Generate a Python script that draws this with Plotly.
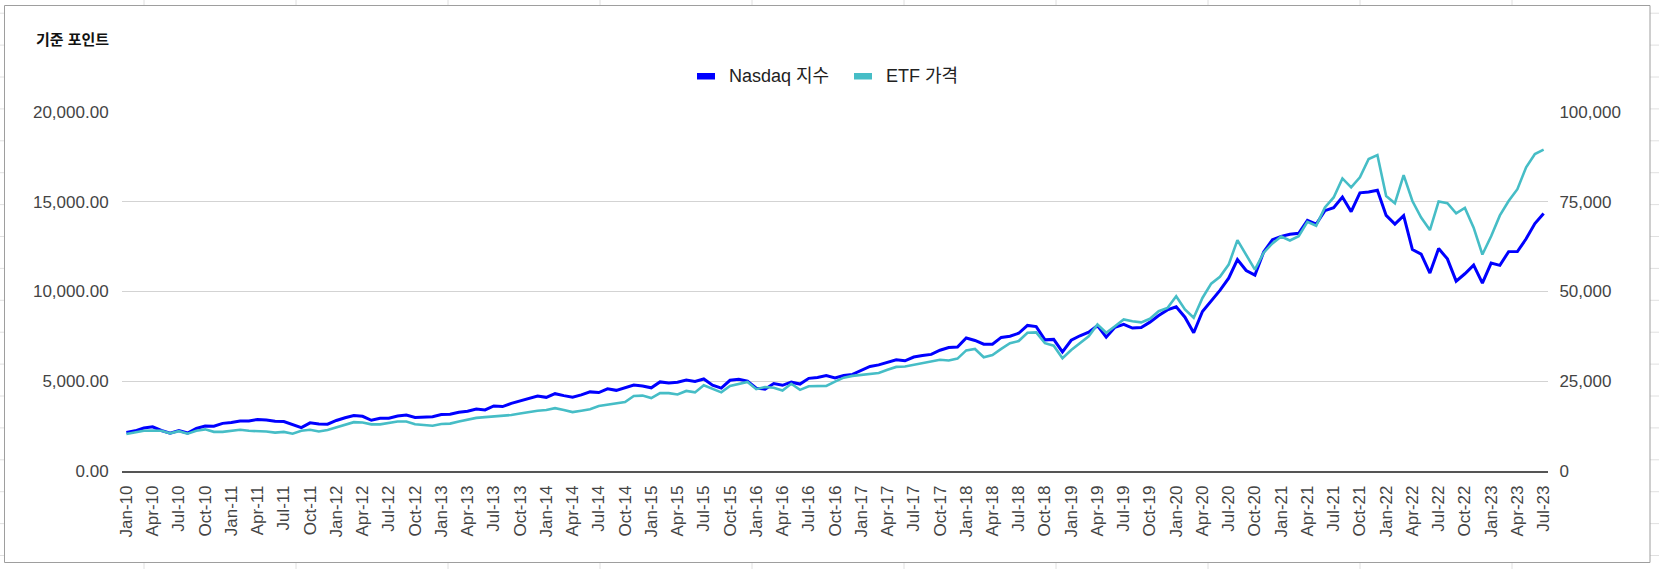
import plotly.graph_objects as go

# Monthly data, Jan-10 .. Jul-23
month_names = ["Jan", "Feb", "Mar", "Apr", "May", "Jun", "Jul", "Aug", "Sep", "Oct", "Nov", "Dec"]
months = [f"{m}-{y:02d}" for y in range(10, 24) for m in month_names][:163]

# Nasdaq index (left axis)
nasdaq = [
    2147, 2238, 2398, 2461, 2257, 2109, 2255, 2114, 2369, 2507, 2498, 2653,
    2700, 2782, 2781, 2874, 2835, 2774, 2756, 2579, 2415, 2684, 2620, 2605,
    2814, 2967, 3092, 3046, 2827, 2935, 2940, 3067, 3116, 2977, 3010, 3020,
    3142, 3160, 3268, 3329, 3456, 3403, 3626, 3590, 3771, 3920, 4060, 4177,
    4104, 4308, 4199, 4115, 4243, 4408, 4370, 4580, 4493, 4631, 4792, 4736,
    4635, 4964, 4901, 4941, 5070, 4987, 5128, 4777, 4620, 5054, 5109, 5007,
    4614, 4558, 4870, 4775, 4948, 4843, 5162, 5213, 5312, 5189, 5324, 5383,
    5615, 5825, 5912, 6048, 6199, 6140, 6348, 6429, 6496, 6728, 6874, 6903,
    7411, 7273, 7063, 7066, 7442, 7510, 7672, 8110, 8046, 7306, 7331, 6635,
    7282, 7533, 7729, 8095, 7453, 8006, 8175, 7963, 7999, 8292, 8665, 8973,
    9151, 8567, 7700, 8890, 9490, 10059, 10745, 11775, 11168, 10912, 12199, 12888,
    13071, 13192, 13247, 13963, 13749, 14504, 14673, 15259, 14449, 15498, 15538, 15645,
    14240, 13751, 14221, 12335, 12081, 11029, 12391, 11816, 10576, 10988, 11468, 10466,
    11585, 11456, 12222, 12227, 12935, 13788, 14346,
]

# ETF price (right axis)
etf = [
    10300, 10700, 11200, 11300, 11200, 10500, 11100, 10400, 11200, 11600, 10900, 10900,
    11100, 11500, 11200, 11200, 11000, 10700, 10900, 10400, 11200, 11500, 11000, 11400,
    12100, 12800, 13600, 13500, 13000, 13000, 13300, 13800, 13800, 13000, 12800, 12600,
    13100, 13200, 13800, 14300, 14800, 15000, 15200, 15300, 15600, 16000, 16500, 16800,
    17000, 17500, 17000, 16400, 16800, 17200, 18100, 18400, 18900, 19200, 20900, 21000,
    20300, 21700, 21700, 21300, 22300, 21900, 23900, 23000, 21900, 23700, 24200, 24800,
    22800, 23400, 23200, 22400, 24300, 22600, 23600, 23700, 23700, 24900, 26000, 26500,
    26800, 27100, 27300, 28200, 29000, 29100, 29600, 30100, 30400, 31000, 30800, 31300,
    33600, 34000, 31700, 32300, 34000, 35600, 36200, 38500, 38600, 35600, 34900, 31400,
    33700, 35700, 37500, 40800, 38500, 40300, 42200, 41700, 41400, 42400, 44500, 45400,
    48700, 45000, 42700, 48200, 52200, 54100, 57500, 64300, 60300, 56100, 60800, 63400,
    65300, 64200, 65400, 69400, 68300, 73400, 76200, 81500, 79000, 81800, 86900, 88000,
    76600, 74600, 82400, 75200, 70600, 67100, 75100, 74600, 71800, 73300, 67800, 60300,
    65400, 71200, 75200, 78500, 84600, 88300, 89500,
]

series_names = ["Nasdaq 지수", "ETF 가격"]
series_colors = ["#0000ff", "#46bdc6"]
chart_title = "기준 포인트"

left_ticks = [0, 5000, 10000, 15000, 20000]
right_ticks = [0, 25000, 50000, 75000, 100000]

W, H = 1659, 569
L, R, T, B = 122, 111, 112, 98
FONT = "Arial, 'Liberation Sans', 'Noto Sans CJK KR', sans-serif"


def px(x, y):
    # pixel position -> paper coordinates
    return (x - L) / (W - L - R), (H - B - y) / (H - T - B)


fig = go.Figure()

fig.add_trace(go.Scatter(
    x=months, y=nasdaq, name=series_names[0], mode="lines",
    line=dict(color=series_colors[0], width=3), yaxis="y",
))
fig.add_trace(go.Scatter(
    x=months, y=etf, name=series_names[1], mode="lines",
    line=dict(color=series_colors[1], width=2.6), yaxis="y2",
))

shapes = []

# spreadsheet cell lines visible around the chart frame
grid_col = "#e0e0e0"
for gx in [144 + 152 * k for k in range(10)]:
    for y0, y1 in [(0, 5), (563, 569)]:
        x0p, y0p = px(gx, y0)
        _, y1p = px(gx, y1)
        shapes.append(dict(type="line", xref="paper", yref="paper", x0=x0p, x1=x0p,
                           y0=y0p, y1=y1p, line=dict(color=grid_col, width=1)))
for gy in [13.2 + 31.9 * k for k in range(18)]:
    for x0, x1 in [(0, 4), (1650, 1659)]:
        x0p, y0p = px(x0, gy)
        x1p, _ = px(x1, gy)
        shapes.append(dict(type="line", xref="paper", yref="paper", x0=x0p, x1=x1p,
                           y0=y0p, y1=y0p, line=dict(color=grid_col, width=1)))

# chart frame
fx0, fy0 = px(4.5, 5.5)
fx1, fy1 = px(1650, 562.5)
shapes.append(dict(type="rect", xref="paper", yref="paper", x0=fx0, x1=fx1, y0=fy1, y1=fy0,
                   line=dict(color="#9e9e9e", width=1)))

# legend swatches
annotations = []
legend_items = [(697, 727), (854, 884)]
for (sx, tx), name, col in zip(legend_items, series_names, series_colors):
    ax0, ay0 = px(sx, 73)
    ax1, ay1 = px(sx + 18, 79.5)
    shapes.append(dict(type="rect", xref="paper", yref="paper", x0=ax0, x1=ax1, y0=ay1, y1=ay0,
                       fillcolor=col, line=dict(width=0)))
    tpx, tpy = px(tx, 76)
    annotations.append(dict(xref="paper", yref="paper", x=tpx, y=tpy, text=name, showarrow=False,
                            xanchor="left", yanchor="middle",
                            font=dict(family=FONT, size=18, color="#222222")))

# title
ttx, tty = px(34, 40)
annotations.append(dict(xref="paper", yref="paper", x=ttx, y=tty, text=f"<b>{chart_title}</b>",
                        showarrow=False, xanchor="left", yanchor="middle",
                        font=dict(family=FONT, size=15, color="#111111")))

fig.update_layout(
    width=W, height=H,
    margin=dict(l=L, r=R, t=T, b=B),
    paper_bgcolor="white", plot_bgcolor="white",
    showlegend=False,
    font=dict(family=FONT, size=17, color="#444444"),
    xaxis=dict(
        type="category", tickvals=months[::3], ticktext=months[::3], tickangle=-90,
        showgrid=False, showline=True, linecolor="#555555", linewidth=1.5,
        ticks="outside", ticklen=6, tickcolor="rgba(0,0,0,0)",
        tickfont=dict(family=FONT, size=17, color="#444444"),
        range=[-0.5, 162.5], fixedrange=True,
    ),
    yaxis=dict(
        range=[0, 20000], tickvals=left_ticks, tickformat=",.2f",
        showgrid=True, gridcolor="#d3d3d3", gridwidth=1, zeroline=False,
        ticks="outside", ticklen=9, tickcolor="rgba(0,0,0,0)",
        tickfont=dict(family=FONT, size=17, color="#444444"),
    ),
    yaxis2=dict(
        range=[0, 100000], tickvals=right_ticks, tickformat=",",
        overlaying="y", side="right", showgrid=False, zeroline=False,
        ticks="outside", ticklen=7, tickcolor="rgba(0,0,0,0)",
        tickfont=dict(family=FONT, size=17, color="#444444"),
    ),
    shapes=shapes,
    annotations=annotations,
)

# page body has a default 8px margin; drop it so the figure sits at the window origin
fig.write_html("out.html", config={"displayModeBar": False},
               post_script="document.body.style.margin='0';")
